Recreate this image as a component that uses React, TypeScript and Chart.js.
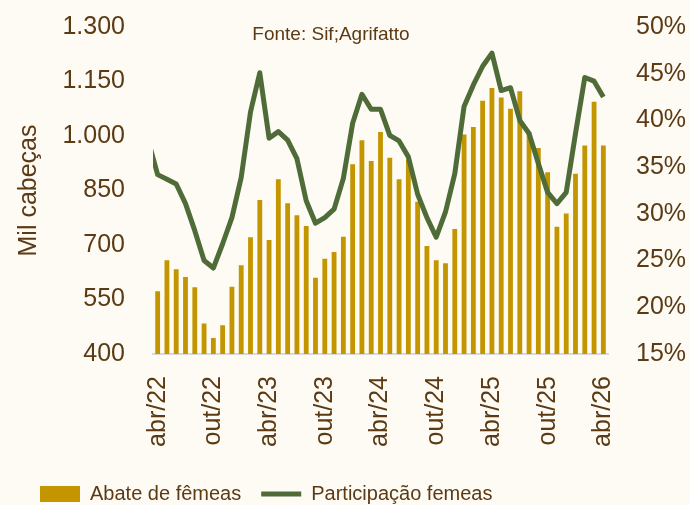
import React, { useEffect, useRef } from "react";
import { Chart, registerables } from "chart.js";

Chart.register(...registerables);

const months: string[] = [
  "abr/22", "mai/22", "jun/22", "jul/22", "ago/22", "set/22", "out/22", "nov/22", "dez/22",
  "jan/23", "fev/23", "mar/23", "abr/23", "mai/23", "jun/23", "jul/23", "ago/23", "set/23",
  "out/23", "nov/23", "dez/23", "jan/24", "fev/24", "mar/24", "abr/24", "mai/24", "jun/24",
  "jul/24", "ago/24", "set/24", "out/24", "nov/24", "dez/24", "jan/25", "fev/25", "mar/25",
  "abr/25", "mai/25", "jun/25", "jul/25", "ago/25", "set/25", "out/25", "nov/25", "dez/25",
  "jan/26", "fev/26", "mar/26", "abr/26",
];

// Abate de fêmeas (mil cabeças)
const abateFemeas: number[] = [
  573, 658, 633, 612, 584, 484, 444, 479, 585,
  644, 721, 824, 714, 881, 815, 782, 752, 610,
  662, 681, 723, 922, 988, 931, 1011, 940, 881,
  935, 819, 697, 658, 650, 744, 1004, 1025, 1097,
  1132, 1106, 1075, 1123, 1010, 967, 900, 750, 787,
  896, 974, 1094, 974,
];

// Participação fêmeas (%) — first value is mar/22, just before the visible range
const participacaoPrev = 37.8;
const participacao: number[] = [
  34.2, 33.7, 33.2, 31.1, 28.2, 25.0, 24.2, 26.8, 29.6,
  33.9, 40.9, 45.1, 38.1, 38.8, 37.9, 35.9, 31.4, 29.0,
  29.6, 30.5, 33.8, 39.7, 42.8, 41.2, 41.2, 38.4, 37.8,
  36.1, 32.1, 29.6, 27.5, 30.2, 34.3, 41.5, 43.8, 45.8,
  47.2, 43.2, 43.5, 40.0, 38.6, 35.4, 32.3, 31.1, 32.3,
  38.6, 44.6, 44.2, 42.5,
];

const leftTicks = { min: 400, max: 1300, step: 150 };
const rightTicks = { min: 15, max: 50, step: 5 };

const BG = "#FDFBF4";
const TEXT = "#5B3A14";
const BAR = "#C39600";
const LINE = "#4F6B38";
const FONT = "'Liberation Sans', Arial, sans-serif";

function buildChart(canvas: HTMLCanvasElement, grouped: boolean) {
  const linePoints = [{ x: -1, y: participacaoPrev }].concat(
    participacao.map((v, i) => ({ x: i, y: v }))
  );

  const sourcePlugin = {
    id: "sourceText",
    afterDatasetsDraw(chart: any) {
      const { ctx, chartArea } = chart;
      ctx.save();
      ctx.fillStyle = TEXT;
      ctx.font = "19px 'Liberation Sans', Arial, sans-serif";
      ctx.textAlign = "center";
      ctx.textBaseline = "middle";
      ctx.fillText("Fonte: Sif;Agrifatto", chartArea.left + 178, chartArea.top + 8);
      ctx.restore();
    },
  };

  return new Chart(canvas, {
    type: "bar",
    data: {
      labels: months,
      datasets: [
        {
          type: "bar",
          label: "Abate de fêmeas",
          data: abateFemeas,
          backgroundColor: BAR,
          borderWidth: 0,
          categoryPercentage: 1,
          barPercentage: 0.52,
          grouped,
          stack: "s",
          yAxisID: "y",
          xAxisID: "x",
          pointStyle: "rect",
          order: 2,
        } as any,
        {
          type: "line",
          label: "Participação femeas",
          data: linePoints,
          borderColor: LINE,
          backgroundColor: LINE,
          borderWidth: 5,
          pointRadius: 0,
          tension: 0,
          borderJoinStyle: "round",
          borderCapStyle: "butt",
          stack: "s",
          yAxisID: "y1",
          xAxisID: "x2",
          pointStyle: "line",
          clip: 0,
          order: 1,
        } as any,
      ],
    },
    options: {
      responsive: false,
      animation: false,
      maintainAspectRatio: false,
      layout: { padding: { top: 27, left: 20, right: 0, bottom: -9 } },
      plugins: {
        tooltip: { enabled: false },
        title: { display: false },
        legend: {
          display: true,
          position: "bottom",
          align: "start",
          labels: {
            usePointStyle: true,
            pointStyleWidth: 40,
            boxHeight: 16,
            color: TEXT,
            font: { family: FONT, size: 20 },
            padding: 20,
            sort: (a: any, b: any) => a.datasetIndex - b.datasetIndex,
          },
        },
      },
      scales: {
        x: {
          type: "category",
          offset: true,
          grid: { display: false, drawTicks: false },
          border: { display: true, color: "#D9D9D9", width: 2 },
          afterFit: (s: any) => { s.height = 110; },
          ticks: {
            autoSkip: false,
            maxRotation: 90,
            minRotation: 90,
            color: TEXT,
            padding: 22,
            font: { family: FONT, size: 25 },
            callback: (_v: any, i: number) => (i % 6 === 0 ? months[i] : ""),
          },
        },
        x2: {
          type: "linear",
          display: false,
          offset: false,
          grid: { offset: false },
          min: -0.5,
          max: months.length - 0.5,
        },
        y: {
          position: "left",
          min: leftTicks.min,
          max: leftTicks.max,
          grid: { display: false, drawTicks: false },
          border: { display: false },
          afterFit: (s: any) => { s.width = 133; s.paddingTop = 0; s.paddingBottom = 0; },
          title: {
            display: true,
            text: "Mil cabeças",
            color: TEXT,
            font: { family: FONT, size: 25 },
            padding: { top: -6, bottom: 0 },
          },
          ticks: {
            stepSize: leftTicks.step,
            color: TEXT,
            padding: 28,
            font: { family: FONT, size: 25 },
            callback: (v: any) => Number(v).toLocaleString("de-DE"),
          },
        },
        y1: {
          position: "right",
          min: rightTicks.min,
          max: rightTicks.max,
          grid: { display: false, drawTicks: false },
          border: { display: false },
          afterFit: (s: any) => { s.width = 82; s.paddingTop = 0; s.paddingBottom = 0; },
          ticks: {
            stepSize: rightTicks.step,
            color: TEXT,
            padding: 28,
            font: { family: FONT, size: 25 },
            callback: (v: any) => v + "%",
          },
        },
      },
    } as any,
    plugins: [sourcePlugin],
  });
}

function barsCentred(chart: any) {
  const bar: any = chart.getDatasetMeta(0).data[0];
  const px = chart.scales.x.getPixelForValue(0);
  return bar && isFinite(bar.x) && isFinite(bar.width) && bar.width > 1 && Math.abs(bar.x - px) < 0.5;
}

export default function App() {
  const ref = useRef<HTMLCanvasElement | null>(null);

  useEffect(() => {
    document.body.style.margin = "0";
    if (!ref.current) return;
    let chart: any = buildChart(ref.current, true);
    if (!barsCentred(chart)) {
      chart.destroy();
      chart = buildChart(ref.current, false);
      if (!barsCentred(chart)) {
        chart.destroy();
        chart = buildChart(ref.current, true);
      }
    }
    return () => chart.destroy();
  }, []);

  return (
    <div style={{ position: "fixed", left: 0, top: 0, width: 690, height: 505, background: BG }}>
      <canvas ref={ref} width={690} height={505} style={{ display: "block" }} />
    </div>
  );
}
